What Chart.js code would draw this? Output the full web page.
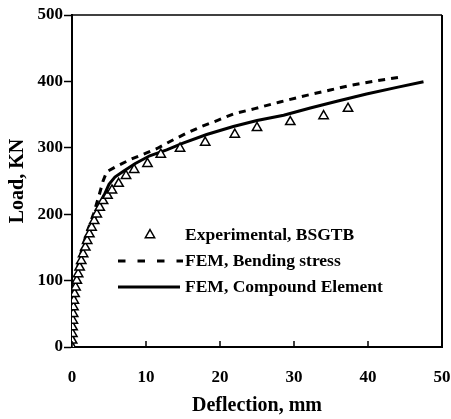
<!DOCTYPE html>
<html>
<head>
<meta charset="utf-8">
<script src="https://cdn.jsdelivr.net/npm/chart.js@4.4.1/dist/chart.umd.min.js"></script>
<style>
  html, body { margin: 0; padding: 0; background: #fff; }
  #wrap { width: 451px; height: 419px; }
</style>
</head>
<body>
<div id="wrap"><canvas id="chart" width="451" height="419"></canvas></div>
<script>
// Experimental, BSGTB (triangles)
var expX = [0, 0.02, 0.05, 0.08, 0.12, 0.16, 0.2, 0.25, 0.35, 0.48, 0.65, 0.83, 1.03, 1.25, 1.5, 1.8, 2.05, 2.35, 2.65, 3.0, 3.35, 3.75, 4.2, 4.8, 5.4, 6.3, 7.3, 8.4, 10.2, 12, 14.6, 18, 22, 25, 29.5, 34, 37.3];
var expY = [0, 10, 20, 30, 40, 50, 60, 70, 80, 90, 100, 110, 120, 130, 140, 150, 160, 170, 180, 190, 200, 210, 220, 228, 236, 246, 258, 267, 276, 290, 299, 308, 320, 330, 339, 348, 359];

// FEM, Bending stress (dashed)
var bendX = [0, 0.08, 0.2, 0.5, 0.85, 1.4, 2.1, 2.9, 3.7, 4.2, 4.7, 6, 8, 10, 11.5, 13.5, 15.3, 17.5, 19.6, 21.8, 24.7, 28.1, 31.7, 34.9, 37.6, 41.2, 44.1];
var bendY = [0, 30, 60, 100, 125, 150, 175, 200, 230, 250, 264, 272, 283, 292, 299, 311, 321, 332, 341, 351, 359, 369, 379, 387, 394, 401, 406];

// FEM, Compound Element (solid)
var compX = [0, 0.1, 0.25, 0.6, 1.0, 1.6, 2.4, 3.3, 4.2, 5.0, 5.8, 7, 8.5, 10.5, 12.8, 15, 18.2, 21.8, 25, 28.6, 32.2, 35.8, 39.8, 43.9, 47.5];
var compY = [0, 30, 60, 100, 125, 150, 175, 200, 225, 245, 256, 265, 276, 288, 297, 307, 320, 332, 341, 349, 360, 370, 381, 391, 399.5];

var xTicks = [0, 10, 20, 30, 40, 50];
var yTicks = [0, 100, 200, 300, 400, 500];
var labels = ['Experimental, BSGTB', 'FEM, Bending stress', 'FEM, Compound Element'];

function toPoints(xs, ys) {
  var pts = [];
  xs.forEach(function(v, i) { pts.push({x: v, y: ys[i]}); });
  return pts;
}

Chart.defaults.font.family = '"Liberation Serif", "Times New Roman", serif';
Chart.defaults.font.weight = 'bold';
Chart.defaults.color = '#000';

/**
* Kader boven/rechts, inwaartse x-ticks en de legenda in het plotvlak.
**/
var framePlugin = {
  id: 'frame',
  afterDraw(chart) {
    var ctx = chart.ctx;
    var a = chart.chartArea;
    var xs = chart.scales.x;
    ctx.save();
    ctx.strokeStyle = '#000';
    ctx.lineWidth = 1.5;
    ctx.beginPath();
    ctx.moveTo(a.left, a.top);
    ctx.lineTo(a.right, a.top);
    ctx.stroke();
    ctx.lineWidth = 2;
    ctx.beginPath();
    ctx.moveTo(a.right, a.top);
    ctx.lineTo(a.right, a.bottom + 1);
    ctx.stroke();
    ctx.lineWidth = 1.5;
    xTicks.forEach(function(t) {
      var px = xs.getPixelForValue(t);
      ctx.beginPath();
      ctx.moveTo(px, a.bottom);
      ctx.lineTo(px, a.bottom - 6);
      ctx.stroke();
    });

    // legenda
    var lx = 118, tx = 185;
    var rows = [235, 261, 287];
    ctx.font = 'bold 17.5px "Liberation Serif", serif';
    ctx.fillStyle = '#000';
    ctx.textBaseline = 'middle';
    ctx.textAlign = 'left';
    labels.forEach(function(l, i) { ctx.fillText(l, tx, rows[i]); });
    // driehoek
    var ds = chart.data.datasets[0];
    var r = ds.pointRadius;
    ctx.fillStyle = '#fff';
    ctx.strokeStyle = '#000';
    ctx.lineWidth = ds.pointBorderWidth;
    ctx.beginPath();
    ctx.moveTo(150, rows[0] - r);
    ctx.lineTo(150 + r * 0.866, rows[0] + r / 2);
    ctx.lineTo(150 - r * 0.866, rows[0] + r / 2);
    ctx.closePath();
    ctx.fill();
    ctx.stroke();
    // gestreept
    ctx.lineWidth = 3;
    ctx.setLineDash([7.5, 12]);
    ctx.beginPath();
    ctx.moveTo(lx, rows[1]);
    ctx.lineTo(183, rows[1]);
    ctx.stroke();
    // doorgetrokken
    ctx.setLineDash([]);
    ctx.beginPath();
    ctx.moveTo(lx, rows[2]);
    ctx.lineTo(180, rows[2]);
    ctx.stroke();
    ctx.restore();
  }
};

new Chart(document.getElementById('chart'), {
  type: 'scatter',
  data: {
    datasets: [{
      label: labels[0],
      data: toPoints(expX, expY),
      showLine: false,
      pointStyle: 'triangle',
      pointRadius: 5.4,
      pointBorderWidth: 1.5,
      pointBorderColor: '#000',
      pointBackgroundColor: '#fff',
      order: 0
    }, {
      label: labels[1],
      data: toPoints(bendX, bendY),
      showLine: true,
      borderColor: '#000',
      borderWidth: 3,
      borderDash: [7, 6],
      pointRadius: 0,
      tension: 0,
      order: 1
    }, {
      label: labels[2],
      data: toPoints(compX, compY),
      showLine: true,
      borderColor: '#000',
      borderWidth: 3,
      pointRadius: 0,
      tension: 0,
      order: 2
    }]
  },
  options: {
    responsive: false,
    animation: false,
    layout: { padding: { left: 0, right: 0, top: 15, bottom: 0 } },
    plugins: {
      legend: { display: false },
      tooltip: { enabled: false }
    },
    scales: {
      x: {
        type: 'linear',
        min: 0, max: 50,
        afterBuildTicks: function(s) { s.ticks = xTicks.map(function(v) { return {value: v}; }); },
        afterFit: function(s) { s.height = 72; s.paddingLeft = 0; s.paddingRight = 9; },
        border: { color: '#000', width: 2 },
        grid: { drawOnChartArea: false, drawTicks: false },
        ticks: { font: { size: 17, weight: 'bold' }, padding: 20, maxRotation: 0 },
        title: { display: true, text: 'Deflection, mm', font: { size: 20, weight: 'bold' }, padding: 1 }
      },
      y: {
        type: 'linear',
        min: 0, max: 500,
        afterBuildTicks: function(s) { s.ticks = yTicks.map(function(v) { return {value: v}; }); },
        afterFit: function(s) { s.width = 72; },
        border: { color: '#000', width: 2 },
        grid: { drawOnChartArea: false, tickLength: 8, tickColor: '#000', tickWidth: 1.5 },
        ticks: { font: { size: 17, weight: 'bold' }, padding: 1 },
        title: { display: true, text: 'Load, KN', font: { size: 20, weight: 'bold' }, padding: 6 }
      }
    }
  },
  plugins: [framePlugin]
});
</script>
</body>
</html>
